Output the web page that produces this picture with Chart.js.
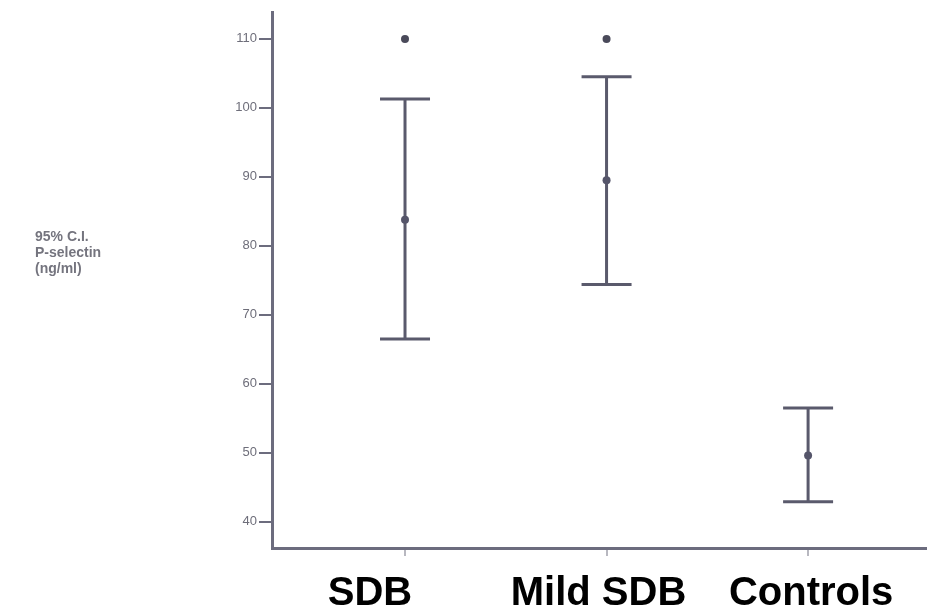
<!DOCTYPE html>
<html>
<head>
<meta charset="utf-8">
<title>P-selectin 95% CI</title>
<script src="https://cdn.jsdelivr.net/npm/chart.js@4.4.1/dist/chart.umd.min.js"></script>
<style>
  html, body { margin: 0; padding: 0; background: #fff; overflow: hidden; }
  #wrap { width: 931px; height: 610px; position: relative; }
</style>
</head>
<body>
<div id="wrap"><canvas id="chart"></canvas></div>
<script>
// groups and their 95% CI for P-selectin (ng/ml)
const groups = ['SDB', 'Mild SDB', 'Controls'];
const means = [83.8, 89.5, 49.6];
const lowerCI = [66.5, 74.4, 42.9];
const upperCI = [101.3, 104.5, 56.5];
// groups flagged with a significance star
const starGroups = [1, 2];
const starValue = 110;
const yTicks = [40, 50, 60, 70, 80, 90, 100, 110];
const yTitle = ['95% C.I.', 'P-selectin', '(ng/ml)'];

const AXIS = '#6c6c7e';
const BAR = '#5a5a6c';

// whiskers with caps, drawn from the CI arrays through the scales
const errorBars = {
  id: 'errorBars',
  beforeDatasetsDraw(chart) {
    const { ctx, scales: { x, y } } = chart;
    ctx.save();
    ctx.strokeStyle = BAR;
    ctx.lineWidth = 3;
    groups.forEach((g, i) => {
      const px = x.getPixelForValue(i + 1);
      const top = y.getPixelForValue(upperCI[i]);
      const bot = y.getPixelForValue(lowerCI[i]);
      ctx.beginPath();
      ctx.moveTo(px, top); ctx.lineTo(px, bot);
      ctx.moveTo(px - 25, top); ctx.lineTo(px + 25, top);
      ctx.moveTo(px - 25, bot); ctx.lineTo(px + 25, bot);
      ctx.stroke();
    });
    ctx.restore();
  }
};

// horizontal y title block and the big group names under the axis
const labels = {
  id: 'labels',
  afterDraw(chart) {
    const { ctx, scales: { x } } = chart;
    ctx.save();
    ctx.fillStyle = '#74747e';
    ctx.font = 'bold 14px "Liberation Sans", Arial, sans-serif';
    ctx.textBaseline = 'middle';
    ctx.textAlign = 'left';
    yTitle.forEach((t, i) => ctx.fillText(t, 35, 237 + i * 16));

    const shift = [-35, -8, 3];
    ctx.fillStyle = '#000';
    ctx.font = 'bold 40px "Liberation Sans", Arial, sans-serif';
    ctx.textAlign = 'center';
    ctx.textBaseline = 'alphabetic';
    groups.forEach((g, i) => ctx.fillText(g, x.getPixelForValue(i + 1) + shift[i], 605));
    ctx.restore();
  }
};

new Chart(document.getElementById('chart'), {
  type: 'scatter',
  data: {
    datasets: [
      {
        label: 'mean',
        data: means.map((m, i) => ({ x: i + 1, y: m })),
        pointRadius: 4,
        pointBackgroundColor: '#55556a',
        pointBorderWidth: 0
      },
      {
        label: 'star',
        data: starGroups.map(g => ({ x: g, y: starValue })),
        pointRadius: 4,
        pointBackgroundColor: '#4a4a5a',
        pointBorderWidth: 0
      }
    ]
  },
  options: {
    responsive: true,
    maintainAspectRatio: false,
    animation: false,
    layout: { padding: { top: 12, right: 0, bottom: 0, left: 0 } },
    plugins: { legend: { display: false }, tooltip: { enabled: false } },
    scales: {
      x: {
        type: 'linear',
        min: 0.34,
        max: 3.59,
        afterBuildTicks: s => { s.ticks = groups.map((g, i) => ({ value: i + 1 })); },
        afterFit: s => { s.height = 62; },
        ticks: { display: false },
        border: { color: AXIS, width: 3 },
        grid: { drawOnChartArea: false, tickLength: 8, color: '#b8b8c0', lineWidth: 2 }
      },
      y: {
        min: 36.2,
        max: 113.9,
        afterBuildTicks: s => { s.ticks = yTicks.map(v => ({ value: v })); },
        afterFit: s => { s.width = 272; },
        ticks: {
          color: '#6e6e7a',
          padding: 2,
          font: { family: '"Liberation Sans", Arial, sans-serif', size: 13 }
        },
        border: { color: AXIS, width: 3 },
        grid: { drawOnChartArea: false, tickLength: 13, color: AXIS, lineWidth: 2 }
      }
    }
  },
  plugins: [errorBars, labels]
});
</script>
</body>
</html>
